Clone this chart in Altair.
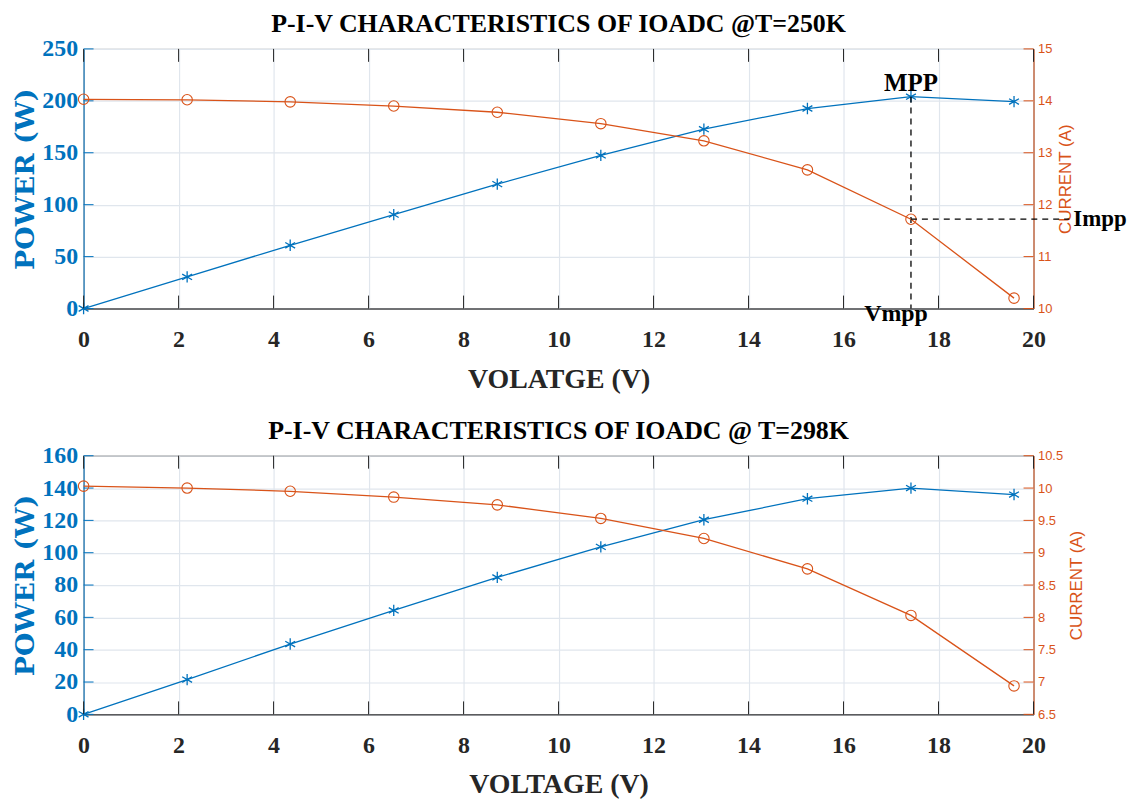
import altair as alt
import pandas as pd

# ---------------- data ----------------
voltage = [0, 2.18, 4.35, 6.53, 8.71, 10.89, 13.06, 15.24, 17.42, 19.59]

power_250 = [0, 30.4, 60.9, 90.4, 119.8, 147.4, 172.7, 192.6, 204.0, 199.3]
current_250 = [14.03, 14.02, 13.98, 13.90, 13.78, 13.56, 13.23, 12.67, 11.72, 10.20]

power_298 = [0, 21.5, 43.5, 64.3, 84.7, 103.6, 120.4, 133.4, 140.0, 136.0]
current_298 = [10.03, 10.00, 9.95, 9.86, 9.74, 9.53, 9.22, 8.75, 8.03, 6.94]

x_ticks = [0, 2, 4, 6, 8, 10, 12, 14, 16, 18, 20]
power_ticks_250 = [0, 50, 100, 150, 200, 250]
current_ticks_250 = [10, 11, 12, 13, 14, 15]
power_ticks_298 = [0, 20, 40, 60, 80, 100, 120, 140, 160]
current_ticks_298 = [6.5, 7, 7.5, 8, 8.5, 9, 9.5, 10, 10.5]

title_250 = "P-I-V CHARACTERISTICS OF IOADC @T=250K"
title_298 = "P-I-V CHARACTERISTICS OF IOADC @ T=298K"
xtitle_250 = "VOLATGE (V)"
xtitle_298 = "VOLTAGE (V)"

# ---------------- style ----------------
BLUE = "#0072BD"
ORANGE = "#D95319"
BLACK = "#262626"
GRID = "#e0e6ed"
SERIF = "Liberation Serif"
WIDE_SERIF = "DejaVu Serif"
SANS = "Liberation Sans"
W = 955
ASTERISK = "M0,-1L0,1M-0.87,-0.5L0.87,0.5M-0.87,0.5L0.87,-0.5"


def panel(title, xtitle, power, current, pticks, cticks, H, annotate):
    df = pd.DataFrame({"V": voltage, "P": power, "I": current})

    x_enc = alt.X(
        "V:Q",
        scale=alt.Scale(domain=[x_ticks[0], x_ticks[-1]], nice=False, zero=False),
        axis=alt.Axis(
            values=x_ticks, format="d", title=xtitle,
            labelFont=SERIF, labelFontWeight="bold", labelFontSize=24,
            labelColor=BLACK, labelFlush=False, labelPadding=19,
            titleFont=SERIF, titleFontWeight="bold", titleFontSize=28,
            titleColor=BLACK, titlePadding=14,
            domainColor=BLACK, ticks=False,
            grid=True, gridColor=GRID, gridWidth=1.2,
        ),
    )
    y_p = alt.Y(
        "P:Q",
        scale=alt.Scale(domain=[pticks[0], pticks[-1]], nice=False),
        axis=alt.Axis(
            orient="left", values=pticks, title="POWER (W)",
            labelFont=SERIF, labelFontWeight="bold", labelFontSize=24,
            labelColor=BLUE, labelFlush=False, labelOverlap=False, labelPadding=6,
            titleFont=WIDE_SERIF, titleFontWeight="bold", titleFontSize=27,
            titleColor=BLUE, titlePadding=2,
            domainColor=BLUE, ticks=False,
            grid=True, gridColor=GRID, gridWidth=1.2,
        ),
    )
    y_i = alt.Y(
        "I:Q",
        scale=alt.Scale(domain=[cticks[0], cticks[-1]], nice=False, zero=False),
        axis=alt.Axis(
            orient="right", values=cticks, format="~g", title="CURRENT (A)",
            labelFont=SANS, labelFontSize=13, labelColor=ORANGE,
            labelFlush=False, labelOverlap=False, labelPadding=4,
            titleFont=SANS, titleFontWeight="normal", titleFontSize=17,
            titleColor=ORANGE, titlePadding=6, titleAngle=270, titleBaseline="top",
            domainColor=ORANGE, ticks=False, grid=False,
        ),
    )

    base = alt.Chart(df)
    p_line = base.mark_line(color=BLUE, strokeWidth=1.3).encode(x=x_enc, y=y_p)
    p_pts = base.mark_point(shape=ASTERISK, filled=False, size=130,
                            color=BLUE, strokeWidth=1.3, opacity=1).encode(x=x_enc, y=y_p)

    xt = alt.Chart(pd.DataFrame({"V": x_ticks}))
    xt_bot = xt.mark_rule(color=BLACK, strokeWidth=1).encode(
        x=x_enc, y=alt.value(H - 13), y2=alt.value(H))
    xt_top = xt.mark_rule(color=BLACK, strokeWidth=1).encode(
        x=x_enc, y=alt.value(0), y2=alt.value(13))
    pt = alt.Chart(pd.DataFrame({"P": pticks})).mark_rule(color=BLUE, strokeWidth=1).encode(
        y=y_p, x=alt.value(0), x2=alt.value(10))

    p_layers = [p_line, p_pts, xt_bot, xt_top, pt]

    i_line = base.mark_line(color=ORANGE, strokeWidth=1.3).encode(x=x_enc, y=y_i)
    i_pts = base.mark_point(shape="circle", filled=False, size=110,
                            color=ORANGE, strokeWidth=1.1, opacity=1).encode(x=x_enc, y=y_i)
    it = alt.Chart(pd.DataFrame({"I": cticks})).mark_rule(color=ORANGE, strokeWidth=1).encode(
        y=y_i, x=alt.value(W - 10), x2=alt.value(W))
    i_layers = [i_line, i_pts, it]

    if annotate:
        k = power.index(max(power))
        mpp = alt.Chart(pd.DataFrame({"V": [voltage[k]], "P": [power[k]], "I": [current[k]]}))
        v_rule = mpp.mark_rule(color="black", strokeDash=[6, 5], strokeWidth=1.3).encode(
            x=x_enc, y=y_p, y2=alt.value(H))
        mpp_txt = mpp.mark_text(text="MPP", font=SERIF, fontWeight="bold", fontSize=25,
                                color="black", baseline="alphabetic", dy=-6).encode(x=x_enc, y=y_p)
        vmpp_txt = mpp.mark_text(text="Vmpp", font=SERIF, fontWeight="bold", fontSize=24,
                                 color="black", baseline="alphabetic", dx=-15).encode(
            x=x_enc, y=alt.value(H + 13))
        h_rule = mpp.mark_rule(color="black", strokeDash=[6, 5], strokeWidth=1.3).encode(
            x=x_enc, x2=alt.value(W + 36), y=y_i)
        impp_txt = mpp.mark_text(text="Impp", font=SERIF, fontWeight="bold", fontSize=23,
                                 color="black", baseline="alphabetic", align="left", dy=7).encode(
            x=alt.value(W + 40), y=y_i)
        p_layers += [v_rule, mpp_txt, vmpp_txt]
        i_layers += [h_rule, impp_txt]

    chart = alt.layer(
        alt.layer(*p_layers),
        alt.layer(*i_layers),
    ).resolve_scale(y="independent").properties(
        width=W, height=H,
        title=alt.TitleParams(title, font=SERIF, fontWeight="bold", fontSize=26,
                              color="black", anchor="middle", offset=0),
    )
    return chart


top = panel(title_250, xtitle_250, power_250, current_250,
            power_ticks_250, current_ticks_250, 261, True)
bottom = panel(title_298, xtitle_298, power_298, current_298,
               power_ticks_298, current_ticks_298, 260, False)

chart = alt.vconcat(top, bottom, spacing=23).properties(
    padding={"left": 3, "top": 0, "right": 0, "bottom": 0},
    background="white",
).configure_view(stroke=BLACK, strokeWidth=1)

chart.save("out.html", embed_options={"renderer": "svg", "actions": False})
